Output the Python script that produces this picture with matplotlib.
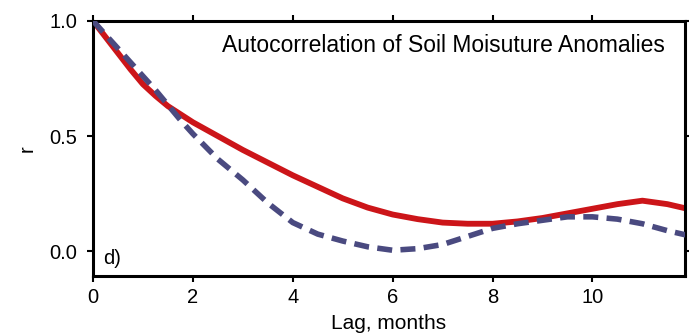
import matplotlib
matplotlib.use("Agg")
import matplotlib.pyplot as plt
import numpy as np

plt.rcParams['font.family'] = ['Liberation Sans', 'DejaVu Sans']

# lag in months
lags = [0, 0.25, 0.5, 0.75, 1, 1.25, 1.5, 1.75, 2, 2.5, 3, 3.5, 4, 4.5, 5, 5.5, 6, 6.5, 7,
        7.5, 8, 8.5, 9, 9.5, 10, 10.5, 11, 11.5, 12]
r_red = [1.0, 0.93, 0.86, 0.79, 0.725, 0.675, 0.63, 0.595, 0.56, 0.50, 0.44, 0.385, 0.33, 0.28,
         0.23, 0.19, 0.16, 0.14, 0.125, 0.12, 0.12, 0.13, 0.145, 0.165, 0.185, 0.205, 0.22, 0.205, 0.18]
r_blue = [1.0, 0.94, 0.88, 0.82, 0.76, 0.70, 0.635, 0.57, 0.51, 0.40, 0.31, 0.21, 0.125, 0.075,
          0.045, 0.02, 0.005, 0.012, 0.03, 0.065, 0.10, 0.12, 0.135, 0.15, 0.15, 0.14, 0.12, 0.09, 0.065]

xticks = [0, 2, 4, 6, 8, 10]
yticks = [0.0, 0.5, 1.0]
ytick_labels = ['0.0', '0.5', '1.0']

fig = plt.figure(figsize=(6.89, 3.36), dpi=100)
ax = fig.add_axes([0.135, 0.179, 0.859, 0.759])

ax.plot(lags, r_red, color='#cc1519', linewidth=4.2, solid_capstyle='round', zorder=2)
ax.plot(lags, r_blue, color='#4a4a80', linewidth=4.0, dashes=(2.7, 1.5), zorder=3)

ax.set_xlim(0, 11.85)
ax.set_ylim(-0.106, 1.0)
ax.set_xticks(xticks)
ax.set_yticks(yticks)
ax.set_yticklabels(ytick_labels)
for s in ax.spines.values():
    s.set_linewidth(2.2)
ax.tick_params(axis='both', direction='out', length=4.5, width=1.5, labelsize=14.5)
ax.tick_params(axis='y', right=True, pad=7)
ax.tick_params(axis='x', top=True, pad=4)

ax.set_xlabel('Lag, months', fontsize=15, labelpad=5)
ax.set_ylabel('r', fontsize=14.5, labelpad=9)

ax.text(0.966, 0.904, 'Autocorrelation of Soil Moisuture Anomalies', transform=ax.transAxes,
        ha='right', va='center', fontsize=16.5)
ax.text(0.017, 0.067, 'd)', transform=ax.transAxes, ha='left', va='center', fontsize=14.5)

fig.savefig('out.png', dpi=100)
